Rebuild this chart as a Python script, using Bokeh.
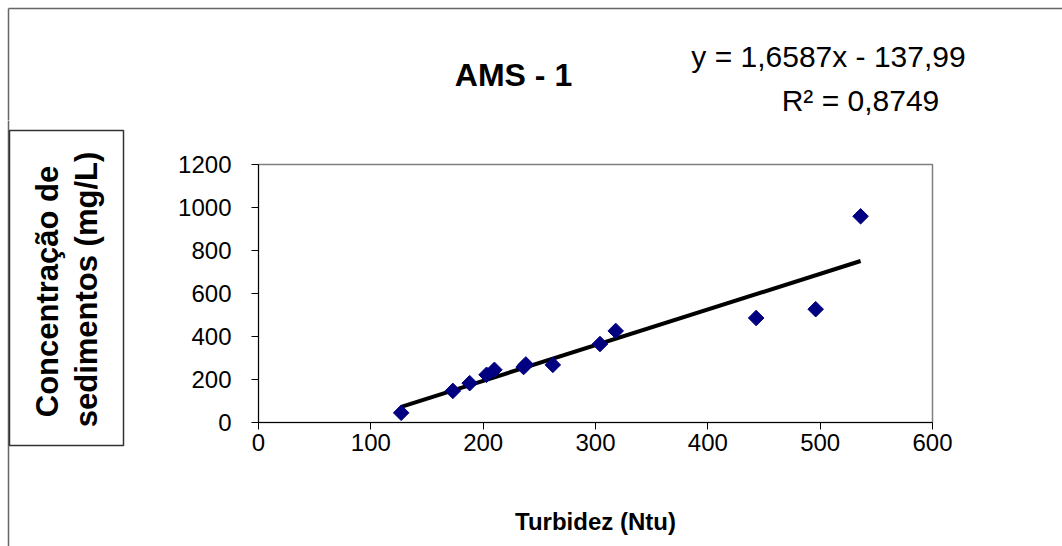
import math
from bokeh.plotting import figure
from bokeh.models import Range1d, FixedTicker
from bokeh.layouts import column, row
from bokeh.core.properties import value
from bokeh.embed import file_html
from bokeh.resources import INLINE

# ---- data ----
turbidez = [127, 173, 188, 203, 210, 236, 238, 262, 304, 318, 443, 496, 536]
concentracao = [45, 147, 183, 222, 245, 258, 270, 268, 365, 426, 486, 527, 959]
slope = 1.6587
intercept = -137.99
x_ticks = [0, 100, 200, 300, 400, 500, 600]
y_ticks = [0, 200, 400, 600, 800, 1000, 1200]
title_text = "AMS - 1"
eq_text = "y = 1,6587x - 137,99"
r2_text = "R\u00b2 = 0,8749"
x_title = "Turbidez (Ntu)"
y_title_lines = ["Concentração de", "sedimentos (mg/L)"]

FONT = "Liberation Sans"
W, H = 1062, 546
TOP_H = 120          # height of the strip holding the title
LEFT_W = 130         # width of the strip holding the y title
FL, FR, FT, FB = 258, 932, 164, 422  # plot frame edges in page pixels
OUTER = "#666666"


def deco(width, height, x0, y0):
    f = figure(width=width, height=height, output_backend="svg", toolbar_location=None,
               x_range=Range1d(x0, x0 + width), y_range=Range1d(y0 + height, y0),
               x_axis_location=None, y_axis_location=None, min_border=0,
               frame_align=False)
    f.title = None
    f.grid.visible = False
    f.outline_line_color = None
    f.background_fill_color = "white"
    f.border_fill_color = "white"
    return f


def txt(f, s, x, y, size, bold=False, angle=0.0):
    f.text(x=[x], y=[y], text=[s], text_font=value(FONT), text_font_size=value(size),
           text_font_style="bold" if bold else "normal", text_align="center",
           text_baseline="middle", text_color="black", angle=angle)


# ---- top strip: title + trendline equation ----
top = deco(W, TOP_H, 0, 0)
top.segment(x0=[8, 8], y0=[8, 8], x1=[W + 10, 8], y1=[8, TOP_H + 5],
            line_color=OUTER, line_width=1.5)
txt(top, title_text, 513, 74, "32px", bold=True)
txt(top, eq_text, 828, 56, "30px")
txt(top, r2_text, 860, 100, "30px")

# ---- left strip: boxed y-axis title ----
left = deco(LEFT_W, H - TOP_H, 0, TOP_H)
left.segment(x0=[8], y0=[TOP_H - 5], x1=[8], y1=[H + 5], line_color=OUTER, line_width=1.5)
left.quad(left=[9], right=[123], top=[130], bottom=[445], fill_color=None,
          line_color="#333333", line_width=1.5)
txt(left, y_title_lines[0], 47, 291, "31px", bold=True, angle=math.pi / 2)
txt(left, y_title_lines[1], 86, 289, "31px", bold=True, angle=math.pi / 2)

# ---- main plot ----
p = figure(width=W - LEFT_W, height=H - TOP_H, output_backend="svg", toolbar_location=None,
           x_range=Range1d(0, 600), y_range=Range1d(0, 1200),
           min_border_left=FL - LEFT_W, min_border_right=W - FR,
           min_border_top=FT - TOP_H, min_border_bottom=H - FB,
           frame_align=False)
p.title = None
p.background_fill_color = "white"
p.border_fill_color = "white"
p.outline_line_color = "#808080"
p.outline_line_width = 1.5
p.grid.visible = False

for ax in (p.xaxis[0], p.yaxis[0]):
    ax.axis_line_color = "black"
    ax.axis_line_width = 1
    ax.major_tick_line_color = "black"
    ax.major_tick_in = 0
    ax.major_tick_out = 7
    ax.minor_tick_line_color = None
    ax.major_label_text_font = FONT
    ax.major_label_text_font_size = "24px"
    ax.major_label_text_color = "black"

p.xaxis.ticker = FixedTicker(ticks=x_ticks)
p.yaxis.ticker = FixedTicker(ticks=y_ticks)
p.xaxis.major_label_standoff = 4
p.yaxis.major_label_standoff = 20
p.xaxis.axis_label = x_title
p.xaxis.axis_label_text_font = FONT
p.xaxis.axis_label_text_font_size = "24px"
p.xaxis.axis_label_text_font_style = "bold"
p.xaxis.axis_label_text_color = "black"
p.xaxis.axis_label_standoff = 54

xs_line = [min(turbidez), max(turbidez)]
ys_line = [slope * v + intercept for v in xs_line]
p.line(xs_line, ys_line, line_color="black", line_width=4)
p.scatter(turbidez, concentracao, marker="square", angle=math.pi / 4,
          size=11, fill_color="#000080", line_color="#000080")

layout = column(top, row(left, p, spacing=0), spacing=0)
open("out.html", "w").write(file_html(layout, INLINE))
